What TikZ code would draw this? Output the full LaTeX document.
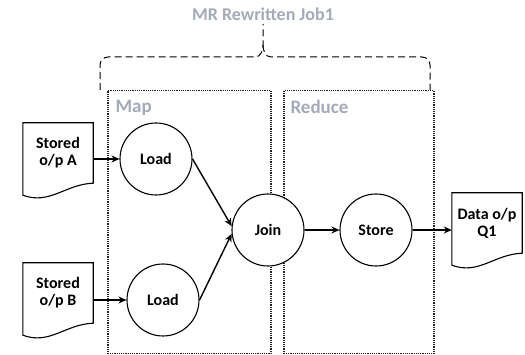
\documentclass[tikz,border=0pt]{standalone}
\usepackage{fontspec}
\setmainfont{Carlito}
\usetikzlibrary{arrows.meta,calc}
\definecolor{labelgray}{HTML}{A4ABB8}
\definecolor{framegray}{HTML}{202020}
\tikzset{
  every node/.style={font=\bfseries\fontsize{16}{17}\selectfont},
  op/.style={circle, draw, fill=white, line width=1.1pt, minimum size=72pt, inner sep=0pt},
  doc/.style={minimum width=70pt, minimum height=60pt, inner sep=0pt, align=center},
  docline/.style={draw, line width=1.1pt},
  flow/.style={line width=1.4pt, -{Stealth[length=8pt,width=7pt]}},
  phase/.style={draw=framegray, line width=1.5pt, dash pattern=on 1.2pt off 1pt},
  phaselabel/.style={text=labelgray, anchor=west, font=\bfseries\fontsize{19}{20}\selectfont},
  brace/.style={line width=1pt, dash pattern=on 7pt off 4pt},
}
% document symbol drawn around a named node
\newcommand\docframe[1]{%
  \draw[docline] (#1.north west) -- (#1.north east) -- (#1.south east)
    .. controls ([xshift=-28pt,yshift=-1pt]#1.south east)
       and ([xshift=27pt,yshift=-22pt]#1.south west)
    .. ([yshift=-12pt]#1.south west) -- cycle;}
\begin{document}
\begin{tikzpicture}[x=1pt,y=-1pt]
\useasboundingbox (0,0) rectangle (525,355);

% phase frames
\node[phase, minimum width=163pt, minimum height=263pt, anchor=north west] (mapbox) at (107,90) {};
\node[phase, minimum width=150pt, minimum height=263pt, anchor=north west] (redbox) at (283,90) {};
\node[phaselabel] (maplbl) at (112,108) {Map};
\node[phaselabel] (redlbl) at (287,107) {Reduce};

% job brace and title
\node[text=labelgray, font=\bfseries\fontsize{18}{19}\selectfont] (title) at (263,14) {MR Rewritten Job1};
\coordinate (bl) at (100,90);
\coordinate (br) at (430,90);
\coordinate (tip) at (263,45);
\draw[brace] (bl) -- (100,65) to[out=90,in=180] (108,57) -- (255,57)
  to[out=0,in=-90] (tip) -- (title.south);
\draw[brace] (tip) to[out=-90,in=180] (271,57) -- (422,57)
  to[out=0,in=90] (430,65) -- (br);

% inputs and output
\node[doc] (docA) at (58,153) {Stored\\o/p A};
\node[doc] (docB) at (58,293) {Stored\\o/p B};
\node[doc] (docQ) at (487,223) {Data o/p\\Q1};
\docframe{docA}
\docframe{docB}
\docframe{docQ}

% operators
\node[op] (loadA) at (156,159) {Load};
\node[op] (loadB) at (163,300) {Load};
\node[op] (join) at (268,230) {Join};
\node[op] (store) at (376,230) {Store};

% data flow
\draw[flow] (docA.east |- loadA) -- (loadA);
\draw[flow] (docB.east |- loadB) -- (loadB);
\draw[flow] (loadA.east) -- (join.174);
\draw[flow] (loadB.east) -- (join.186);
\draw[flow] (join) -- (store);
\draw[flow] (store) -- (docQ.west |- store);
\end{tikzpicture}
\end{document}
